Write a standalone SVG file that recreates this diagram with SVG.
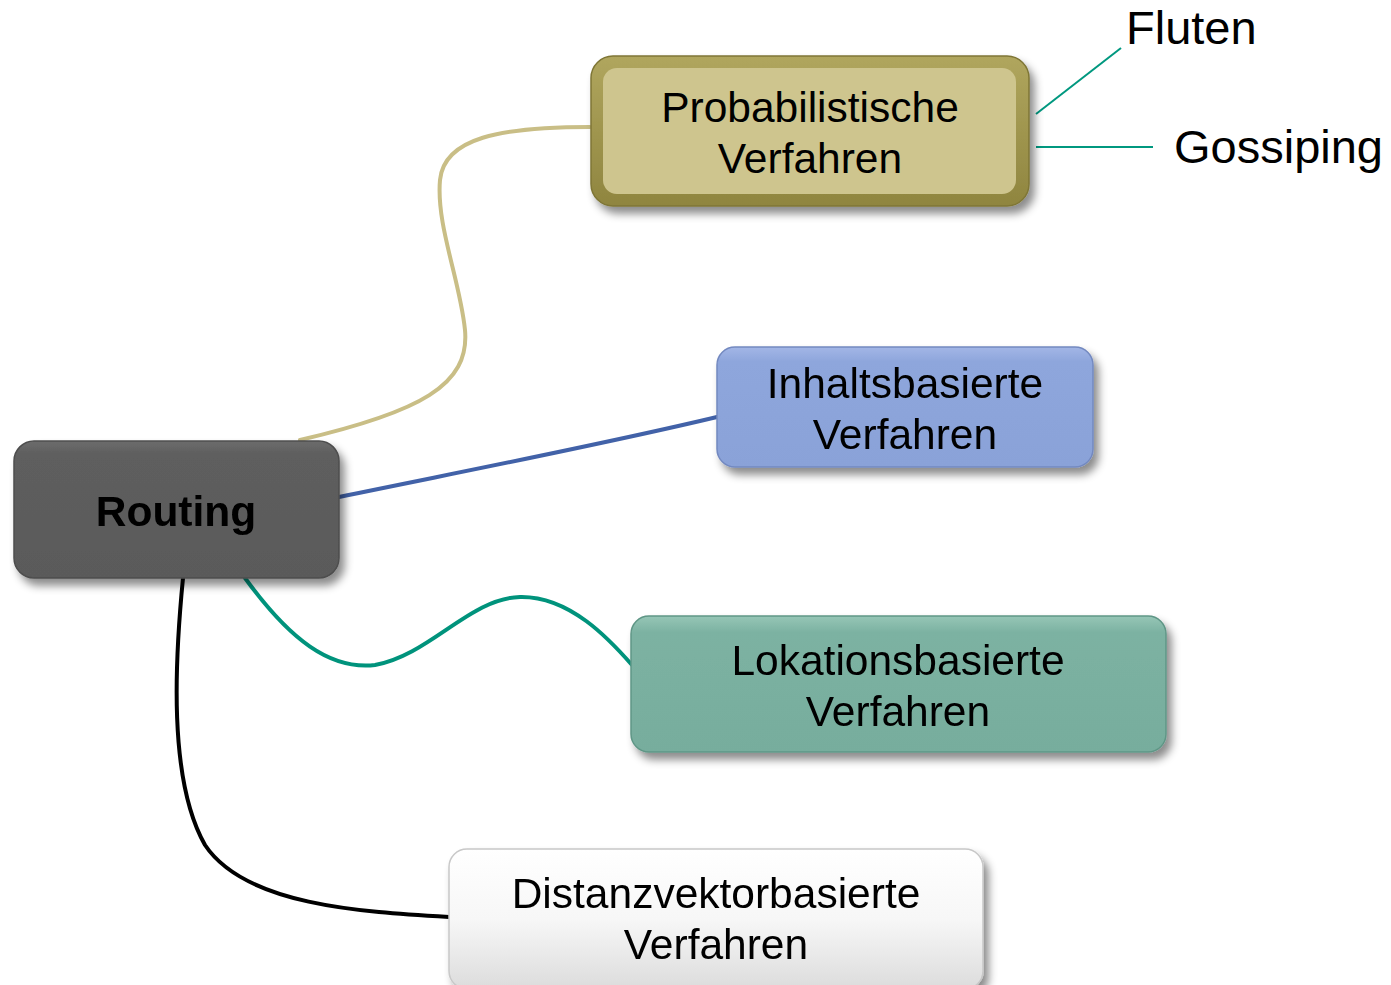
<svg xmlns="http://www.w3.org/2000/svg" width="1391" height="985" viewBox="0 0 1391 985">
  <style>
    .lbl { font-family: "Liberation Sans", Arial, sans-serif; font-size: 42.5px; fill: #000; text-anchor: middle; }
    .leaf { font-family: "Liberation Sans", Arial, sans-serif; font-size: 47px; fill: #000; }
    .conn { fill: none; stroke-width: 4; stroke-linecap: round; }
    .twig { fill: none; stroke: #00987f; stroke-width: 2; }
  </style>
  <defs>
    <filter id="shadow" x="-10%" y="-20%" width="125%" height="150%">
      <feDropShadow dx="5" dy="7" stdDeviation="4" flood-color="#000" flood-opacity="0.45"/>
    </filter>
    <linearGradient id="gRouting" x1="0" y1="0" x2="0" y2="1">
      <stop offset="0" stop-color="#6c6c6c"/>
      <stop offset="0.1" stop-color="#5e5e5e"/>
      <stop offset="1" stop-color="#5a5a5a"/>
    </linearGradient>
    <linearGradient id="gProbOuter" x1="0" y1="0" x2="0" y2="1">
      <stop offset="0" stop-color="#b0a65e"/>
      <stop offset="1" stop-color="#8f853f"/>
    </linearGradient>
    <linearGradient id="gInhalt" x1="0" y1="0" x2="0" y2="1">
      <stop offset="0" stop-color="#a3b6e6"/>
      <stop offset="0.12" stop-color="#8ea6dc"/>
      <stop offset="1" stop-color="#8aa2d8"/>
    </linearGradient>
    <linearGradient id="gLok" x1="0" y1="0" x2="0" y2="1">
      <stop offset="0" stop-color="#96c6b6"/>
      <stop offset="0.12" stop-color="#7cb2a2"/>
      <stop offset="1" stop-color="#77ad9d"/>
    </linearGradient>
    <linearGradient id="gDist" x1="0" y1="0" x2="0" y2="1">
      <stop offset="0" stop-color="#ffffff"/>
      <stop offset="0.5" stop-color="#f7f7f7"/>
      <stop offset="1" stop-color="#dcdcdc"/>
    </linearGradient>
  </defs>

  <rect width="1391" height="985" fill="#fff"/>

  <!-- connectors -->
  <g id="connectors">
    <path class="conn" stroke="#c9be86" d="M300,440 C420,412 470,385 465,330 C460,280 436,225 440,180 C444,138 500,127 590,127"/>
    <path class="conn" stroke="#4262a8" d="M339,497 C470,470 600,445 717,417"/>
    <path class="conn" stroke="#00937c" d="M245,578 C290,640 330,670 375,665 C430,655 470,598 520,597 C570,596 610,640 632,665"/>
    <path class="conn" stroke="#000" d="M183,578 C175,660 168,780 205,845 C245,905 360,912 449,917"/>
    <path class="twig" d="M1036,114 L1121,48"/>
    <path class="twig" d="M1036,147 L1153,147"/>
  </g>

  <g id="node-routing" filter="url(#shadow)">
    <rect x="14" y="441" width="325" height="137" rx="20" fill="url(#gRouting)" stroke="#4e4e4e" stroke-width="1.5"/>
    <text class="lbl" x="176" y="526" font-weight="bold">Routing</text>
  </g>

  <g id="node-probabilistisch">
    <rect x="591" y="56" width="438" height="150" rx="22" fill="url(#gProbOuter)" stroke="#7f7636" stroke-width="1.5" filter="url(#shadow)"/>
    <rect x="603" y="68" width="413" height="126" rx="14" fill="#cec58e"/>
    <text class="lbl" x="810" y="122">Probabilistische</text>
    <text class="lbl" x="810" y="173">Verfahren</text>
  </g>

  <g id="node-inhalt" filter="url(#shadow)">
    <rect x="717" y="347" width="376" height="120" rx="18" fill="url(#gInhalt)" stroke="#7389c0" stroke-width="1.5"/>
    <text class="lbl" x="905" y="398">Inhaltsbasierte</text>
    <text class="lbl" x="905" y="449">Verfahren</text>
  </g>

  <g id="node-lokation" filter="url(#shadow)">
    <rect x="631" y="616" width="535" height="136" rx="18" fill="url(#gLok)" stroke="#5f9686" stroke-width="1.5"/>
    <text class="lbl" x="898" y="675">Lokationsbasierte</text>
    <text class="lbl" x="898" y="726">Verfahren</text>
  </g>

  <g id="node-distanz" filter="url(#shadow)">
    <rect x="449" y="849" width="534" height="140" rx="18" fill="url(#gDist)" stroke="#c8c8c8" stroke-width="1.5"/>
    <text class="lbl" x="716" y="908">Distanzvektorbasierte</text>
    <text class="lbl" x="716" y="959">Verfahren</text>
  </g>

  <g id="leaf-fluten">
    <text class="leaf" x="1126" y="44">Fluten</text>
  </g>
  <g id="leaf-gossiping">
    <text class="leaf" x="1174" y="163">Gossiping</text>
  </g>
</svg>
